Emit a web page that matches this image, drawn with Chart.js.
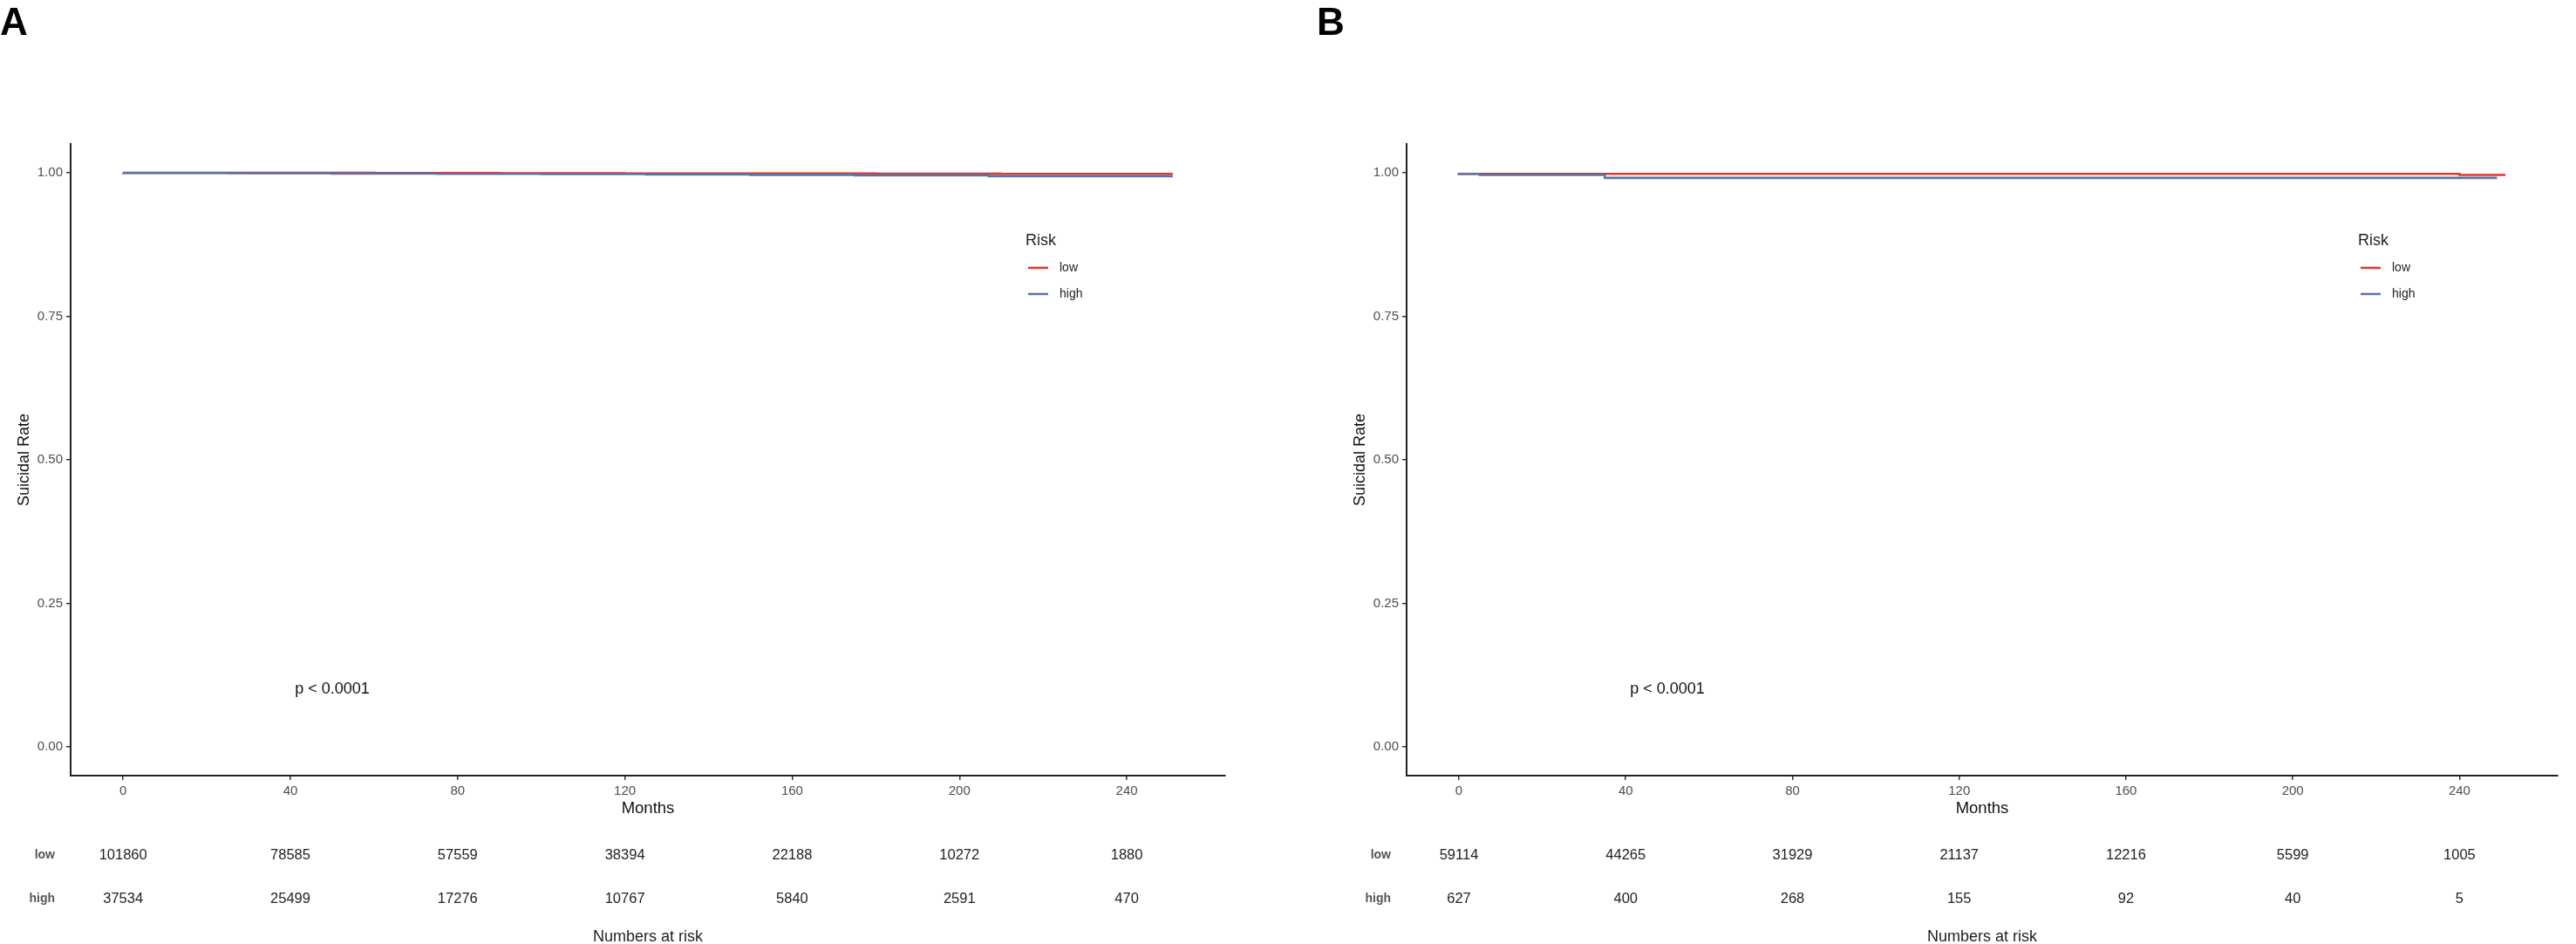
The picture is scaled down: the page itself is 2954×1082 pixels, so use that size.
<!DOCTYPE html>
<html>
<head>
<meta charset="utf-8">
<script src="https://cdn.jsdelivr.net/npm/chart.js@4.4.0/dist/chart.umd.min.js"></script>
<style>
  body { margin: 0; background: #fff; width: 2954px; height: 1082px; overflow: hidden; position: relative; }
  canvas { position: absolute; top: 0; }
  #chartA { left: 0; }
  #chartB { left: 1477px; }
</style>
</head>
<body>
<canvas id="chartA" width="1477" height="1082"></canvas>
<canvas id="chartB" width="1477" height="1082"></canvas>
<script>
// groups, ticks
var groups = ['low', 'high'];
var xTicks = [0, 40, 80, 120, 160, 200, 240];
var yTicks = [0, 0.25, 0.5, 0.75, 1];

// panel A survival curves (months, survival)
var timeLowA = [0, 30, 60, 90, 120, 150, 180, 210, 240, 251];
var survLowA = [1, 0.9998, 0.9996, 0.9993, 0.999, 0.9988, 0.9985, 0.9982, 0.998, 0.998];
var timeHighA = [0, 25, 50, 75, 100, 125, 150, 175, 207, 218, 251];
var survHighA = [1, 0.9995, 0.999, 0.9985, 0.998, 0.9975, 0.997, 0.9962, 0.9955, 0.994, 0.994];

// panel B survival curves
var timeLowB = [0, 240, 246, 251];
var survLowB = [1, 0.998, 0.996, 0.996];
var timeHighB = [0, 5, 35, 103, 249];
var survHighB = [1, 0.998, 0.996, 0.991, 0.991];

// numbers at risk
var riskLowA = [101860, 78585, 57559, 38394, 22188, 10272, 1880];
var riskHighA = [37534, 25499, 17276, 10767, 5840, 2591, 470];
var riskLowB = [59114, 44265, 31929, 21137, 12216, 5599, 1005];
var riskHighB = [627, 400, 268, 155, 92, 40, 5];

var pText = 'p < 0.0001';
var colors = { low: '#E2372B', high: '#5873A6' };
var FONT = '"Liberation Sans", Arial, sans-serif';

function pts(t, s) {
  return t.map(function(v, i) { return { x: v, y: s[i] }; });
}

var kmExtras = {
  id: 'kmExtras',
  afterDraw: function(chart, args, opts) {
    var ctx = chart.ctx;
    var area = chart.chartArea;
    var xs = chart.scales.x, ys = chart.scales.y;
    ctx.save();

    // panel letter
    ctx.fillStyle = '#000';
    ctx.font = 'bold 44px ' + FONT;
    ctx.textAlign = 'left';
    ctx.textBaseline = 'alphabetic';
    ctx.fillText(opts.letter, opts.letterX, 40);

    // p value
    ctx.fillStyle = '#111';
    ctx.font = '18px ' + FONT;
    ctx.textAlign = 'center';
    ctx.textBaseline = 'middle';
    ctx.fillText(pText, xs.getPixelForValue(50), ys.getPixelForValue(0.1));

    // legend
    var lx = area.right - 229;
    ctx.textAlign = 'left';
    ctx.fillStyle = '#222';
    ctx.font = '18px ' + FONT;
    ctx.fillText('Risk', lx, area.top + 111);
    ctx.font = '14px ' + FONT;
    groups.forEach(function(g, i) {
      var y = area.top + 142 + i * 30;
      ctx.strokeStyle = colors[g];
      ctx.lineWidth = 2.5;
      ctx.beginPath();
      ctx.moveTo(lx + 3, y);
      ctx.lineTo(lx + 26, y);
      ctx.stroke();
      ctx.fillStyle = '#222';
      ctx.fillText(g, lx + 39, y);
    });

    // risk table
    opts.rows.forEach(function(row, i) {
      var y = area.bottom + 91 + i * 50;
      ctx.font = 'bold 14px ' + FONT;
      ctx.fillStyle = '#555';
      ctx.textAlign = 'right';
      ctx.fillText(groups[i], area.left - 18, y);
      ctx.font = '16.5px ' + FONT;
      ctx.fillStyle = '#222';
      ctx.textAlign = 'center';
      row.forEach(function(v, j) {
        ctx.fillText(String(v), xs.getPixelForValue(xTicks[j]), y);
      });
    });
    ctx.font = '18px ' + FONT;
    ctx.fillStyle = '#222';
    ctx.textAlign = 'center';
    ctx.fillText('Numbers at risk', (area.left + area.right) / 2, area.bottom + 185);
    ctx.restore();
  }
};

function makeChart(id, lowPts, highPts, extras, padLeft, padRight) {
  return new Chart(document.getElementById(id).getContext('2d'), {
    type: 'line',
    data: {
      datasets: [{
        label: 'high',
        data: highPts,
        borderColor: colors.high,
        borderWidth: 2.6,
        stepped: 'after',
        pointRadius: 0,
        fill: false,
        order: 0
      }, {
        label: 'low',
        data: lowPts,
        borderColor: colors.low,
        borderWidth: 2.6,
        stepped: 'after',
        pointRadius: 0,
        fill: false,
        order: 1
      }]
    },
    options: {
      responsive: false,
      animation: false,
      devicePixelRatio: 1,
      layout: { padding: { left: padLeft, right: padRight, top: 165, bottom: 143 } },
      plugins: {
        legend: { display: false },
        tooltip: { enabled: false },
        kmExtras: extras
      },
      scales: {
        x: {
          type: 'linear',
          min: -12.55,
          max: 263.55,
          afterBuildTicks: function(s) { s.ticks = xTicks.map(function(v) { return { value: v }; }); },
          afterFit: function(s) { s.height = 50; },
          border: { display: true, color: '#222', width: 2 },
          grid: { drawOnChartArea: false, drawTicks: true, tickLength: 5, color: '#333', lineWidth: 1.5 },
          ticks: { color: '#4D4D4D', font: { family: FONT, size: 15 }, padding: 4, maxRotation: 0 },
          title: { display: true, text: 'Months', color: '#111', font: { family: FONT, size: 18.5 }, padding: { top: 0, bottom: 1 } }
        },
        y: {
          min: -0.05,
          max: 1.05,
          afterBuildTicks: function(s) { s.ticks = yTicks.map(function(v) { return { value: v }; }); },
          afterFit: function(s) { s.width = 81; },
          border: { display: true, color: '#222', width: 2 },
          grid: { drawOnChartArea: false, drawTicks: true, tickLength: 5, color: '#333', lineWidth: 1.5 },
          ticks: {
            color: '#4D4D4D',
            font: { family: FONT, size: 15 },
            padding: 4,
            callback: function(v) { return Number(v).toFixed(2); }
          },
          title: { display: true, text: 'Suicidal Rate', color: '#111', font: { family: FONT, size: 18 }, padding: { top: 17, bottom: 0 } }
        }
      }
    },
    plugins: [kmExtras]
  });
}

makeChart('chartA', pts(timeLowA, survLowA), pts(timeHighA, survHighA),
  { letter: 'A', letterX: 0, rows: [riskLowA, riskHighA] }, 0, 72);
makeChart('chartB', pts(timeLowB, survLowB), pts(timeHighB, survHighB),
  { letter: 'B', letterX: 33, rows: [riskLowB, riskHighB] }, 55, 21);
</script>
</body>
</html>
